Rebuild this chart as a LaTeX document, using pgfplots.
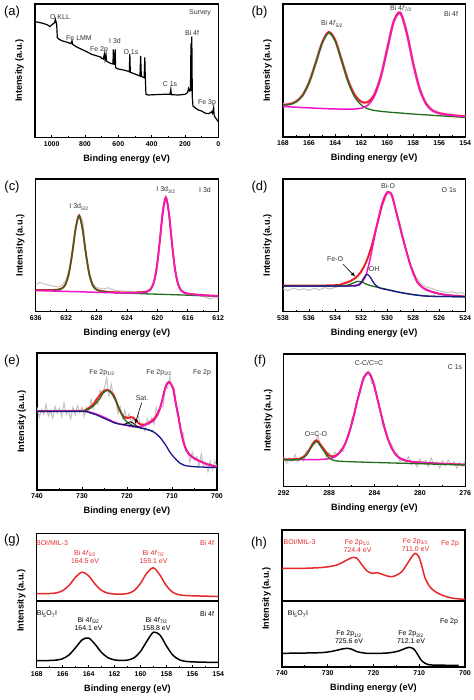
\documentclass[border=0pt]{standalone}
\usepackage{fontspec}
\setmainfont{Liberation Sans}
\usepackage{pgfplots}
\usepackage{pgfplotstable}
\pgfplotsset{compat=1.18}
\definecolor{cred}{RGB}{235,30,35}
\definecolor{cmag}{RGB}{245,20,200}
\definecolor{cgrn}{RGB}{35,110,30}
\definecolor{cnav}{RGB}{25,25,140}
\definecolor{cgry}{RGB}{195,195,195}
\definecolor{cpink}{RGB}{240,205,220}
\definecolor{ctxt}{RGB}{50,50,50}
\definecolor{tred}{RGB}{230,40,45}
\newcommand{\fs}[1]{\fontsize{#1}{#1}\selectfont}
\pgfplotsset{
  xps/.style={
    scale only axis, anchor=south west, x dir=reverse,
    ymin=0, ytick=\empty,
    axis line style={line width=1.1pt},
    tick align=inside, xtick pos=left,
    major tick length=3bp, minor tick length=1.8bp,
    tick style={black, line width=0.9pt},
    minor x tick num=1,
    tick label style={font=\fs{7}\bfseries},
    /pgf/number format/assume math mode=true,
    /pgf/number format/1000 sep={},
    xlabel={Binding energy (eV)},
    ylabel={Intensity (a.u.)},
    label style={font=\fs{9.2}\bfseries},
    xlabel style={at={(rel axis cs:0.5,0)}, anchor=center, yshift=-21bp},
    ylabel style={at={(rel axis cs:-0.085,0.5)}, anchor=center},
  },
}
\tikzset{
  rawl/.style={cgry, line width=1pt},
  envl/.style={cred, line width=1.9pt, smooth},
  grnl/.style={cgrn, line width=1.3pt, smooth},
  magl/.style={cmag, line width=1.5pt, smooth},
  navl/.style={cnav, line width=1.3pt, smooth},
  ann/.style={font=\fs{7}, text=ctxt, inner sep=0pt},
  pan/.style={font=\fs{13}, inner sep=0pt},
}
\pgfplotstableread{
E g1 g2 env
154 58.7 60.7 61.4
154.5 59.8 62.4 63.1
155 61.1 64.5 65.3
155.5 62.2 66.8 67.6
156 63.5 70.5 71.4
156.5 64.7 77.9 78.9
157 66.1 97.8 99.0
157.5 67.3 142.1 143.4
158 68.6 218.2 219.6
158.5 70.1 310.5 312.3
159 71.8 369.7 372.0
159.5 73.2 343.3 345.9
160 74.9 260.1 263.3
160.5 76.8 175.6 179.5
161 79.5 120.5 126.0
161.5 84.6 94.8 104.2
162 95.9 86.0 105.6
162.5 119.8 83.8 126.1
163 164.4 83.1 168.9
163.5 227.1 83.3 230.7
164 287.4 83.9 290.4
164.5 311.5 84.4 313.9
165 279.4 85.3 281.5
165.5 218.9 86.2 220.8
166 161.4 87.2 163.1
166.5 123.2 88.1 124.7
167 104.6 89.2 106.0
167.5 97.2 90.2 98.5
168 95.3 91.2 96.5
}\tabB
\pgfplotstableread{
E g1 g2 env
612 46.5 46.9 47.4
614 48.0 49.1 49.7
615.7 49.2 52.7 53.3
616.5 49.9 56.8 57.5
616.9 50.2 63.5 64.2
617.3 50.5 83.3 84.0
617.7 50.7 128.3 129.0
618.1 51.1 207.7 208.5
618.5 51.4 296.8 297.6
618.9 51.7 341.9 342.7
619.3 52.0 297.4 298.2
619.7 52.3 208.9 209.7
620.1 52.5 130.0 130.8
620.5 52.8 85.5 86.3
620.9 53.1 66.3 67.1
621.3 53.4 60.2 61.0
622.1 54.1 57.3 58.2
624 55.6 56.1 57.2
626 57.7 56.9 58.7
626.7 59.1 57.3 60.0
627.6 62.0 57.9 62.9
628.05 66.2 58.2 67.0
628.5 78.3 58.5 79.1
628.95 111.4 58.8 112.2
629.4 172.8 59.1 173.6
629.85 248.4 59.4 249.2
630.3 288.0 59.8 288.8
630.75 249.1 60.0 249.8
631.2 174.1 60.3 174.8
631.65 113.3 60.6 114.0
632.1 80.8 60.9 81.5
632.55 69.4 61.3 70.1
633.0 65.9 61.6 66.6
633.9 64.2 62.1 64.8
635 63.9 62.9 64.5
636 64.1 63.5 64.6
}\tabC
\pgfplotstableread{
E m g env
276 66.1 65.1 66.2
277 67.3 66.0 67.4
278 68.8 66.9 68.9
279 70.5 67.9 70.6
280 72.6 68.9 72.7
280.5 74.0 69.3 74.1
281 76.4 69.8 76.5
281.5 81.0 70.3 81.1
282 91.6 70.7 91.7
282.5 116.3 71.2 116.4
283 162.0 71.7 162.1
283.5 228.6 72.2 228.8
284 298.7 72.6 299.0
284.3 331.0 72.9 331.1
284.6 342.1 73.2 342.2
285 321.1 73.6 321.3
285.5 259.5 74.1 259.7
286 189.0 74.9 189.5
286.5 135.3 75.5 136.0
287 104.1 76.3 105.1
287.5 89.3 78.2 91.7
288 84.1 85.9 93.7
288.5 82.1 108.9 114.3
289.1 81.2 135.3 139.2
289.5 81.0 121.7 125.0
290 81.1 94.6 97.6
290.5 81.1 82.5 85.0
291 81.1 80.5 82.5
292 81.5 80.6 82.1
}\tabF
\pgfplotstableread{
E r k
154 213.6 15.6
155 214.5 16.4
156 215.6 17.5
156.5 216.4 18.9
157 218.5 23.6
157.5 225.9 37.5
158 245.6 65.4
158.5 277.8 97.9
159 299.4 106.4
159.5 284.5 79.9
160 252.8 48.5
160.5 230.8 29.6
161 222.4 22.8
161.5 220.6 21.8
162 220.9 23.4
162.5 223.5 29.9
163 231.7 45.5
163.5 250.7 70.3
164 275.6 88.9
164.5 286.7 83.4
165 271.5 60.2
165.5 247.0 38.5
166 230.8 27.0
166.5 224.2 22.8
167 222.4 21.6
168 222.0 21.3
}\tabG
\begin{document}
\begin{tikzpicture}[x=1bp,y=1bp]
\useasboundingbox (0,0) rectangle (474,700);

% ---------------- (a) survey
\begin{axis}[xps, at={(35bp,562.3bp)}, width=183.3bp, height=133.7bp,
  xmin=0, xmax=1100, ymax=401, xtick={0,200,...,1000}]
\addplot[black, line width=1.2pt] coordinates {
(1100,348) (1080,346) (1060,344) (1040,341) (1020,337) (1010,333) (1000,338) (990,342) (982,345) (978,355) (974,348) (970,340) (966,300) (955,295) (940,291) (920,288) (900,285) (885,282) (878,290) (874,280) (850,272) (820,265) (790,258) (760,250) (740,247) (720,244) (706,242) (700,238) (690,236) (684,250) (680,234) (674,250) (671,230) (660,226) (640,222) (632,221) (630,265) (628,222) (622,220) (619,265) (616,210) (600,206) (560,202) (540,199) (534,198) (531,251) (528,196) (500,191) (480,187) (470,185) (466,245) (462,184) (445,180) (441,241) (438,178) (434,130) (420,128) (380,129) (330,130) (290,130) (285,145) (282,129) (240,128) (200,130) (185,135) (178,148) (172,140) (167,142) (164,283) (161,140) (159,303) (156,120) (152,95) (140,90) (120,83) (100,80) (90,77) (80,74) (60,72) (50,74) (40,78) (35,73) (28,90) (25,68) (20,62) (10,55) (0,48)};
\end{axis}

% ---------------- (b) Bi 4f
\begin{axis}[xps, at={(283bp,563bp)}, width=182.3bp, height=133bp,
  xmin=154, xmax=168, ymax=398, xtick={154,156,...,168}]
\addplot[cpink, line width=3.2pt, smooth] table[x=E,y=env]{\tabB};
\addplot[envl] table[x=E,y=env]{\tabB};
\addplot[grnl] table[x=E,y=g1]{\tabB};
\addplot[magl] table[x=E,y=g2]{\tabB};
\end{axis}

% ---------------- (c) I 3d
\begin{axis}[xps, at={(35.7bp,388.3bp)}, width=182.6bp, height=132.7bp,
  xmin=612, xmax=636, ymax=398, xtick={612,616,...,636}]
\addplot[rawl] coordinates {
(636,80) (635.5,88) (635,84) (634.5,82) (634,78) (633.5,76) (633,74) (632.5,80) (632,95) (631.5,135) (631,210) (630.5,278) (630.2,290) (629.8,270) (629.5,195) (629,120) (628.5,85) (628,72) (627.5,70) (627,68) (626.5,72) (626,67) (625.5,64) (625,62) (624.5,63) (624,60) (623.5,62) (623,59) (622.5,61) (622,60) (621.5,62) (621,66) (620.5,88) (620,150) (619.5,255) (619,338) (618.8,342) (618.5,298) (618,185) (617.5,100) (617,66) (616.5,57) (616,54) (615.5,50) (615,49) (614.5,47) (614,46) (613.5,42) (613,38) (612.5,43) (612,40)};
\addplot[envl] table[x=E,y=env]{\tabC};
\addplot[grnl] table[x=E,y=g1]{\tabC};
\addplot[magl] table[x=E,y=g2]{\tabC};
\end{axis}

% ---------------- (d) O 1s
\begin{axis}[xps, at={(283bp,388.3bp)}, width=182.3bp, height=132.7bp,
  xmin=524, xmax=538, ymax=398, xtick={524,526,...,538}]
\addplot[rawl] coordinates {
(538,68) (537.6,63) (537.2,71) (536.8,65) (536.4,69) (536,64) (535.6,70) (535.2,66) (534.8,72) (534.4,68) (534,73) (533.6,76) (533.2,82) (532.8,90) (532.4,100) (532,116) (531.6,150) (531.2,200) (530.8,262) (530.4,318) (530,352) (529.7,350) (529.4,315) (529,262) (528.6,195) (528.2,140) (527.8,105) (527.4,84) (527,74) (526.6,70) (526.2,64) (525.8,61) (525.4,57) (525,60) (524.6,55) (524.3,58) (524,53)};
\addplot[envl] coordinates {
(538,78) (535,78.5) (534,79.5) (533.6,81) (533.34,85) (532.83,92) (532.32,105) (531.93,125) (531.55,155) (531.17,200) (530.78,260) (530.4,318) (530.1,352) (529.95,358.5) (529.65,350.5) (529.25,290.5) (528.73,210.5) (528.22,140.5) (527.71,90.5) (527.2,70.5) (526.7,61.5) (526.18,55.5) (525.5,50.5) (525,48.5) (524,45.5)};
\addplot[magl] coordinates {
(538,77) (535,77) (533.5,77.2) (533,77.6) (532.6,78.5) (532.3,80) (532.1,84) (531.9,90) (531.7,103) (531.55,120) (531.3,160) (531.04,210) (530.78,260) (530.5,310) (530.25,342) (529.95,358) (529.65,350) (529.25,290) (528.73,210) (528.22,140) (527.71,90) (527.2,70) (526.7,61) (526.18,55) (525.5,50) (525,48) (524,45)};
\addplot[grnl] coordinates {
(538,77) (533.5,77.5) (533,80) (532.6,86) (532.25,91) (531.9,88) (531.5,81) (531,75.5) (530.5,71) (530,66.5) (529,58) (528,51.5) (527,47) (526,45.6) (524,45)};
\addplot[navl] coordinates {
(538,77) (533,77) (532.4,77.5) (532.15,80) (531.95,90) (531.75,104) (531.55,112) (531.35,106) (531.15,94) (530.95,82) (530.7,74) (530.5,70) (530,66) (529.5,61.5) (529,57.5) (528.5,54) (528,51) (527.5,48.5) (527,46.8) (526,45.6) (524,45)};
\end{axis}

% ---------------- (e) Fe 2p
\begin{axis}[xps, at={(37bp,210bp)}, width=180bp, height=137bp,
  xmin=700, xmax=740, ymax=410, xtick={700,710,...,740}]
\addplot[rawl] coordinates {
(740,247) (739.5,217) (739,241) (738.5,226) (738,257) (737.5,221) (737,238) (736.5,215) (736,250) (735.5,230) (735,245) (734.5,219) (734,260) (733.5,227) (733,239) (732.5,213) (732,248) (731.5,224) (731,253) (730.5,232) (730,248) (729.5,220) (729,247) (728.5,236) (728,272) (727.5,244) (727,269) (726.5,255) (726,299) (725.5,286) (725,307) (724.5,335) (724,282) (723.5,317) (723,277) (722.5,272) (722,228) (721.5,250) (721,214) (720.5,238) (720,214) (719.5,228) (719,198) (718.5,219) (718,201) (717.5,226) (717,184) (716.5,199) (716,176) (715.5,214) (715,197) (714.5,216) (714,196) (713.5,247) (713,225) (712.5,254) (712,248) (711.5,306) (711,304) (710.5,340) (710,307) (709.5,304) (709,250) (708.5,226) (708,171) (707.5,172) (707,114) (706.5,115) (706,83) (705.5,113) (705,89) (704.5,100) (704,71) (703.5,108) (703,72) (702.5,82) (702,54) (701.5,87) (701,61) (700.5,88) (700,65)};
\addplot[envl] coordinates {
(740,236) (730,237) (729.2,240) (728.2,248) (727.4,258) (726.7,272) (726,284) (725.3,295) (724.4,300) (723.6,294) (723,285) (722.4,266) (721.9,247) (721.3,230) (720.8,221) (720.2,216) (719.7,216) (719.1,218) (718.6,216) (717.9,206) (717.2,198) (716.6,195) (716,196) (715.4,199) (714.7,205) (714.1,211) (713.4,224) (712.7,244) (712.1,273) (711.6,301) (711.1,319) (710.6,323) (710.1,314) (709.7,301) (709.2,263) (708.6,221) (708.1,183) (707.6,151) (707,126) (706.4,111) (705.5,99) (704.5,91) (703.4,84) (702.3,78) (701,73) (700,69)};
\addplot[magl] coordinates {
(740,236) (730,236) (727,228) (725,217) (723,204) (722,199) (720,193) (718.6,189) (717,190) (716.4,192) (715.5,197) (714.6,203) (714.1,207) (713.4,220) (712.7,242) (712.1,272) (711.6,300) (711.1,318) (710.6,322) (710.1,313) (709.7,300) (709.2,262) (708.6,220) (708.1,182) (707.6,150) (707,125) (706.4,110) (705.5,98) (704.5,90) (703.4,83) (702.3,77) (701,72) (700,68)};
\addplot[grnl] coordinates {
(740,235.5) (730,236) (729,239) (728,246) (727,258) (726,274) (725.3,290) (724.4,298) (723.6,292) (722.8,275) (722,252) (721.3,230) (720.6,212) (720,203) (719.3,197) (718.6,192) (717.5,188) (716.5,184) (715,179) (714,175)};
\addplot[navl] coordinates {
(740,235) (730,235) (728.5,232) (727,226) (726,220) (725,214) (724,208) (723,202) (722,198) (721,196) (720,194) (719,192) (718,189) (717,186) (716,183) (715,179) (714,173) (713.3,166) (712.7,158) (712,146) (711.2,130) (710.5,114) (709.7,100) (709,90) (708.2,80) (707.3,74) (706,71) (704,69) (700,67)};
\addplot[black, line width=0.9pt, smooth] coordinates {
(721,196) (720.3,198) (719.7,202) (719.2,204) (718.7,201) (718.1,194) (717.5,188)};
\end{axis}

% ---------------- (f) C 1s
\begin{axis}[xps, at={(283.7bp,213.3bp)}, width=181.6bp, height=132.7bp,
  xmin=276, xmax=292, ymax=398, xtick={276,280,...,292}]
\addplot[rawl] coordinates {
(292,90) (291.75,70) (291.5,87) (291.25,76) (291,96) (290.75,75) (290.5,87) (290.25,77) (290,108) (289.75,106) (289.5,132) (289.25,126) (289,154) (288.75,123) (288.5,117) (288.25,88) (288,103) (287.75,84) (287.5,104) (287.25,95) (287,113) (286.75,106) (286.5,141) (286.25,154) (286,204) (285.75,216) (285.5,262) (285.25,280) (285,331) (284.75,333) (284.5,348) (284.25,310) (284,314) (283.75,260) (283.5,232) (283.25,181) (283,171) (282.75,132) (282.5,128) (282.25,102) (282,100) (281.75,74) (281.5,86) (281.25,73) (281,90) (280.75,66) (280.5,76) (280.25,60) (280,83) (279.75,68) (279.5,79) (279.25,61) (279,86) (278.75,65) (278.5,73) (278.25,55) (278,78) (277.75,62) (277.5,80) (277.25,66) (277,75) (276.75,55) (276.5,72) (276.25,61) (276,80)};
\addplot[envl] table[x=E,y=env]{\tabF};
\addplot[magl] table[x=E,y=m]{\tabF};
\addplot[grnl] table[x=E,y=g]{\tabF};
\end{axis}

% ---------------- (g) Bi 4f comparison
\begin{axis}[xps, at={(36.7bp,32.3bp)}, width=181.6bp, height=134.4bp,
  xmin=154, xmax=168, ymax=403, xtick={154,156,...,168}]
\draw[line width=1.1pt] (rel axis cs:0,0.496) -- (rel axis cs:1,0.496);
\addplot[tred, line width=1.5pt, smooth] table[x=E,y=r]{\tabG};
\addplot[black, line width=1.5pt, smooth] table[x=E,y=k]{\tabG};
\end{axis}

% ---------------- (h) Fe 2p comparison
\begin{axis}[xps, at={(282bp,33bp)}, width=183bp, height=137bp,
  xmin=700, xmax=740, ymax=411, xtick={700,710,...,740}]
\draw[line width=1.1pt] (rel axis cs:0,0.482) -- (rel axis cs:1,0.482);
\addplot[tred, line width=1.5pt, smooth] coordinates {
(740,296) (735.3,296) (730.9,299) (728,306) (726.2,318) (725.1,326) (724.3,329) (723.6,326) (722.5,306) (721.4,288) (720.3,281) (719.2,283) (718.1,278) (717,273) (716,271) (714.9,276) (713.8,286) (712.7,308) (711.6,331) (710.9,341) (710.1,331) (709.4,301) (708.7,266) (707.7,241) (706.5,226) (704.7,214) (702.5,206) (700,203)};
\addplot[black, line width=1.5pt, smooth] coordinates {
(740,41) (731.6,43) (728.7,48) (727.2,53) (725.8,56) (724.7,53) (723.6,46) (721.4,41) (718.5,41) (716.3,43) (714.5,48) (713,56) (712.1,59) (711.2,54) (710.5,41) (709.6,21) (708.7,11) (707.2,6) (701.4,5)};
\end{axis}

% ---------------- annotations
\node[pan] at (12,687.5) {(a)};
\node[pan] at (259.5,687.5) {(b)};
\node[pan] at (12,512.5) {(c)};
\node[pan] at (259.5,512.5) {(d)};
\node[pan] at (12,339) {(e)};
\node[pan] at (260,339) {(f)};
\node[pan] at (12,159.5) {(g)};
\node[pan] at (259,156.5) {(h)};

% (a)
\node[ann] at (60,683) {O KLL};
\node[ann] at (79,662) {Fe LMM};
\node[ann] at (99,650) {Fe 2p};
\node[ann] at (115,659) {I 3d};
\node[ann] at (131,648) {O 1s};
\node[ann] at (170,616) {C 1s};
\node[ann] at (192,667) {Bi 4f};
\node[ann] at (207,597) {Fe 3p};
\node[ann] at (200,687) {Survey};
% (b)
\node[ann] at (332,676) {Bi 4\textit{f}\textsubscript{5/2}};
\node[ann] at (401,691.5) {Bi 4\textit{f}\textsubscript{7/2}};
\node[ann] at (451,686) {Bi 4f};
% (c)
\node[ann] at (79,493) {I 3d\textsubscript{5/2}};
\node[ann] at (166,510) {I 3d\textsubscript{3/2}};
\node[ann] at (205,510) {I 3d};
% (d)
\node[ann] at (388,514) {Bi-O};
\node[ann] at (449,510) {O 1s};
\node[ann] at (335,441) {Fe-O};
\node[ann] at (373,431) {-OH};
\draw[-latex, line width=0.6pt] (343,435.7) -- (355.3,423.3);
% (e)
\node[ann] at (102,327) {Fe 2p\textsubscript{1/2}};
\node[ann] at (159,327) {Fe 2p\textsubscript{3/2}};
\node[ann] at (202,327) {Fe 2p};
\node[ann] at (142,302) {Sat.};
\draw[-latex, line width=0.6pt] (141.7,297.3) -- (135,276);
% (f)
\node[ann] at (369,337) {C-C/C=C};
\node[ann] at (455,333) {C 1s};
\node[ann] at (316,266) {O=C-O};
% (g)
\node[ann, text=tred] at (52,157) {BOI/MIL-3};
\node[ann, text=tred] at (207,157) {Bi 4f};
\node[ann, text=tred, align=center, font=\fontsize{7}{8}\selectfont] at (85,143) {Bi 4\textit{f}\textsubscript{5/2}\\164.5 eV};
\node[ann, text=tred, align=center, font=\fontsize{7}{8}\selectfont] at (153.5,143) {Bi 4\textit{f}\textsubscript{7/2}\\159.1 eV};
\node[ann, text=black] at (47,86) {Bi\textsubscript{5}O\textsubscript{7}I};
\node[ann, text=black] at (207,86) {Bi 4f};
\node[ann, text=black, align=center, font=\fontsize{7}{8}\selectfont] at (88.5,76) {Bi 4\textit{f}\textsubscript{5/2}\\164.1 eV};
\node[ann, text=black, align=center, font=\fontsize{7}{8}\selectfont] at (156.5,76) {Bi 4\textit{f}\textsubscript{7/2}\\158.8 eV};
% (h)
\node[ann, text=tred] at (299.5,158) {BOI/MIL-3};
\node[ann, text=tred, align=center, font=\fontsize{7}{8}\selectfont] at (357.5,154) {Fe 2p\textsubscript{1/2}\\724.4 eV};
\node[ann, text=tred, align=center, font=\fontsize{7}{8}\selectfont] at (415.5,155) {Fe 2p\textsubscript{3/2}\\711.0 eV};
\node[ann, text=tred] at (450,156) {Fe 2p};
\node[ann, text=black] at (298,86) {Bi\textsubscript{5}O\textsubscript{7}I};
\node[ann, text=black] at (449,78) {Fe 2p};
\node[ann, text=black, align=center, font=\fontsize{7}{8}\selectfont] at (349,62.5) {Fe 2p\textsubscript{1/2}\\725.6 eV};
\node[ann, text=black, align=center, font=\fontsize{7}{8}\selectfont] at (411,62.5) {Fe 2p\textsubscript{3/2}\\712.1 eV};
\end{tikzpicture}
\end{document}
